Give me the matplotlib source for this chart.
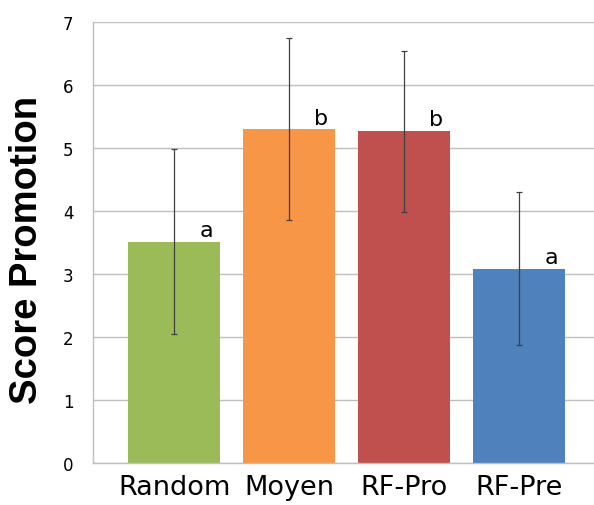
import matplotlib
matplotlib.use("Agg")
import matplotlib.pyplot as plt

categories = ["Random", "Moyen", "RF-Pro", "RF-Pre"]
means = [3.52, 5.30, 5.27, 3.08]
err_low = [2.06, 3.86, 3.99, 1.87]
err_high = [4.99, 6.75, 6.54, 4.31]
letters = ["a", "b", "b", "a"]
colors = ["#9BBB59", "#F79646", "#C0504D", "#4F81BD"]
yticks = [0, 1, 2, 3, 4, 5, 6, 7]

fig = plt.figure(figsize=(5.94, 5.06), dpi=100)
ax = fig.add_axes([93 / 594, 41.7 / 506, 507 / 594, 441 / 506])

x = list(range(len(categories)))
ax.bar(x, means, width=0.8, color=colors, zorder=2, edgecolor="none")
yerr = [[m - lo for m, lo in zip(means, err_low)],
        [hi - m for m, hi in zip(means, err_high)]]
ax.errorbar(x, means, yerr=yerr, fmt="none", ecolor="#404040",
            elinewidth=0.9, capsize=2.5, capthick=0.9, zorder=3)

for xi, m, lt in zip(x, means, letters):
    ax.text(xi + 0.28, m + 0.03, lt, ha="center", va="bottom",
            fontsize=16, family="DejaVu Sans", color="black", zorder=4)

ax.set_xlim(-0.706, 3.706)
ax.set_ylim(0, 7)
ax.set_yticks(yticks)
ax.set_yticklabels([str(t) for t in yticks], fontsize=12, family="DejaVu Sans")
ax.set_xticks(x)
ax.set_xticklabels(categories, fontsize=19.5, family="DejaVu Sans")
ax.tick_params(axis="both", length=0)
ax.tick_params(axis="y", pad=14)
ax.tick_params(axis="x", pad=8)

ax.grid(axis="y", color="#BFBFBF", linewidth=1.0, zorder=0)
ax.set_axisbelow(True)
for s in ["top", "right"]:
    ax.spines[s].set_visible(False)
ax.spines["left"].set_color("#BFBFBF")
ax.spines["bottom"].set_color("#BFBFBF")
ax.spines["left"].set_linewidth(1.0)
ax.spines["bottom"].set_linewidth(1.0)

fig.text(27 / 594, 1 - 250 / 506, "Score Promotion", rotation=90,
         ha="center", va="center", fontsize=27.5, fontweight="bold",
         family="Liberation Sans")

fig.savefig("out.png", dpi=100)
